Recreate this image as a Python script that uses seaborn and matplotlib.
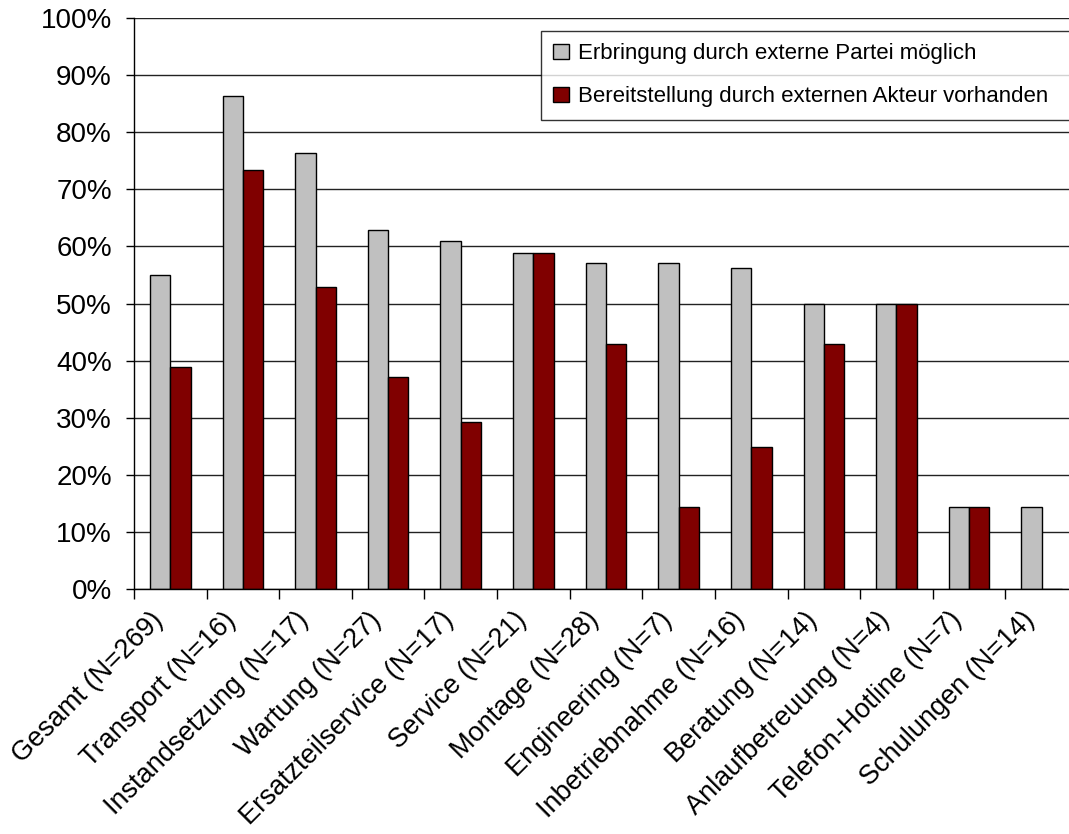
import matplotlib
matplotlib.use("Agg")
import matplotlib.pyplot as plt
import matplotlib.transforms as mtransforms
import pandas as pd
import seaborn as sns
from matplotlib.ticker import FixedLocator, FuncFormatter

# Service categories with sample sizes
categories = [
    "Gesamt (N=269)", "Transport (N=16)", "Instandsetzung (N=17)",
    "Wartung (N=27)", "Ersatzteilservice (N=17)", "Service (N=21)",
    "Montage (N=28)", "Engineering (N=7)", "Inbetriebnahme (N=16)",
    "Beratung (N=14)", "Anlaufbetreuung (N=4)", "Telefon-Hotline (N=7)",
    "Schulungen (N=14)",
]

series_names = [
    "Erbringung durch externe Partei möglich",
    "Bereitstellung durch externen Akteur vorhanden",
]

# Shares in percent
erbringung = [55.0, 86.4, 76.3, 62.8, 61.0, 58.9, 57.1, 57.1, 56.2, 50.0, 50.0, 14.3, 14.3]
bereitstellung = [38.9, 73.3, 52.9, 37.1, 29.3, 58.9, 42.9, 14.3, 24.8, 42.9, 50.0, 14.3, 0.0]

colors = ["#C0C0C0", "#800000"]

df = pd.DataFrame({
    "Kategorie": categories * 2,
    "Reihe": [series_names[0]] * len(categories) + [series_names[1]] * len(categories),
    "Anteil": erbringung + bereitstellung,
})

sns.set_style("white")
plt.rcParams["font.family"] = ["Liberation Sans", "DejaVu Sans"]
plt.rcParams["text.color"] = "black"
plt.rcParams["xtick.color"] = "black"
plt.rcParams["ytick.color"] = "black"
plt.rcParams["axes.labelcolor"] = "black"

fig = plt.figure(figsize=(10.69, 8.34), dpi=100)
ax = fig.add_axes([134 / 1069, 1 - 589 / 834, (1078 - 134) / 1069, (589 - 18) / 834])

sns.barplot(
    data=df, x="Kategorie", y="Anteil", hue="Reihe",
    order=categories, hue_order=series_names,
    palette=colors, width=0.56, gap=0, dodge=True,
    edgecolor="black", linewidth=1.0, saturation=1, ax=ax,
    legend=True,
)

ax.set_xlim(-0.5, len(categories) - 0.5)
ax.set_ylim(0, 100)
ax.set_xlabel("")
ax.set_ylabel("")

# horizontal grid
ax.set_yticks(range(0, 101, 10))
ax.yaxis.set_major_formatter(FuncFormatter(lambda v, p: f"{int(v)}%"))
ax.yaxis.grid(True, color="#222222", linewidth=1.0)
ax.xaxis.grid(False)
ax.set_axisbelow(True)

for side in ["top", "right"]:
    ax.spines[side].set_visible(False)
for side in ["left", "bottom"]:
    ax.spines[side].set_color("black")
    ax.spines[side].set_linewidth(1.0)

ax.tick_params(axis="y", direction="out", length=6, width=1, color="black",
               labelcolor="black", pad=10, labelsize=20, left=True)

# category labels, boundary ticks between categories
ax.set_xticks(range(len(categories)))
ax.set_xticklabels(categories, rotation=45, ha="right", va="top",
                   rotation_mode="anchor", fontsize=19.5, color="black")
ax.tick_params(axis="x", which="major", length=0, pad=13)
shift = mtransforms.ScaledTranslation(-0.20, 0.0, fig.dpi_scale_trans)
for lbl in ax.get_xticklabels():
    lbl.set_transform(lbl.get_transform() + shift)
ax.xaxis.set_minor_locator(FixedLocator([i - 0.5 for i in range(len(categories) + 1)]))
ax.tick_params(axis="x", which="minor", direction="out", length=7, width=1,
               color="black", bottom=True)

# legend box
handles, labels = ax.get_legend_handles_labels()
ax.legend_.remove()
leg = fig.legend(
    handles, labels, loc="upper left",
    bbox_to_anchor=(541 / 1069, 1 - 31 / 834, 0.6, 0.0), mode="expand",
    frameon=True, fancybox=False, edgecolor="black", fontsize=16,
    handlelength=0.7, handleheight=0.7, handletextpad=0.4,
    labelspacing=1.0, borderpad=0.55, borderaxespad=0,
    labelcolor="black",
)
leg.get_frame().set_linewidth(1.0)
for h in leg.legend_handles:
    h.set_edgecolor("black")
    h.set_linewidth(1.0)

fig.savefig("out.png", dpi=100)
